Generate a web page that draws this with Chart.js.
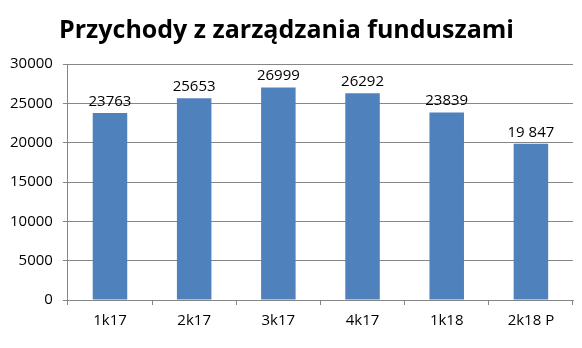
<!DOCTYPE html>
<html>
<head>
<meta charset="utf-8">
<script src="https://cdn.jsdelivr.net/npm/chart.js@4/dist/chart.umd.min.js"></script>
<style>
  html, body { margin: 0; padding: 0; background: #fff; }
  #wrap { width: 582px; height: 348px; }
</style>
</head>
<body>
<div id="wrap"><canvas id="myChart"></canvas></div>
<script>
const categories = ['1k17', '2k17', '3k17', '4k17', '1k18', '2k18 P'];
const revenue = [23763, 25653, 26999, 26292, 23839, 19847];
const valueLabels = ['23763', '25653', '26999', '26292', '23839', '19 847'];
const yTicks = [0, 5000, 10000, 15000, 20000, 25000, 30000];

const FONT = "'Open Sans', 'Liberation Sans', sans-serif";

const barLabels = {
    id: 'barLabels',
    afterDatasetsDraw(chart) {
        const ctx = chart.ctx;
        const meta = chart.getDatasetMeta(0);
        ctx.save();
        ctx.font = '15px ' + FONT;
        ctx.fillStyle = '#000';
        ctx.textAlign = 'center';
        ctx.textBaseline = 'bottom';
        meta.data.forEach((bar, i) => {
            ctx.fillText(valueLabels[i], bar.x, bar.y - 4);
        });
        ctx.restore();
    }
};

const ctx = document.getElementById('myChart').getContext('2d');
const myChart = new Chart(ctx, {
    type: 'bar',
    data: {
        labels: categories,
        datasets: [{
            label: 'Przychody',
            data: revenue,
            backgroundColor: '#4F81BD',
            barPercentage: 0.41,
            categoryPercentage: 1
        }]
    },
    options: {
        responsive: true,
        maintainAspectRatio: false,
        animation: false,
        layout: { padding: { left: 0, right: 9, top: 4, bottom: 11 } },
        plugins: {
            legend: { display: false },
            tooltip: { enabled: false },
            title: {
                display: true,
                text: 'Przychody z zarządzania funduszami',
                color: '#000',
                font: { family: FONT, size: 25, weight: 'bold' },
                padding: { top: 12, bottom: 18 }
            }
        },
        scales: {
            x: {
                grid: { offset: true, drawOnChartArea: false, tickLength: 5, color: '#868686' },
                border: { color: '#868686' },
                ticks: { color: '#000', font: { family: FONT, size: 15 }, padding: 7 }
            },
            y: {
                min: 0,
                max: 30000,
                afterBuildTicks(axis) { axis.ticks = yTicks.map(v => ({ value: v })); },
                grid: { color: '#868686', tickLength: 5 },
                border: { color: '#868686' },
                ticks: {
                    color: '#000',
                    font: { family: FONT, size: 15 },
                    padding: 10,
                    callback: v => String(v)
                }
            }
        }
    },
    plugins: [barLabels]
});
</script>
</body>
</html>
